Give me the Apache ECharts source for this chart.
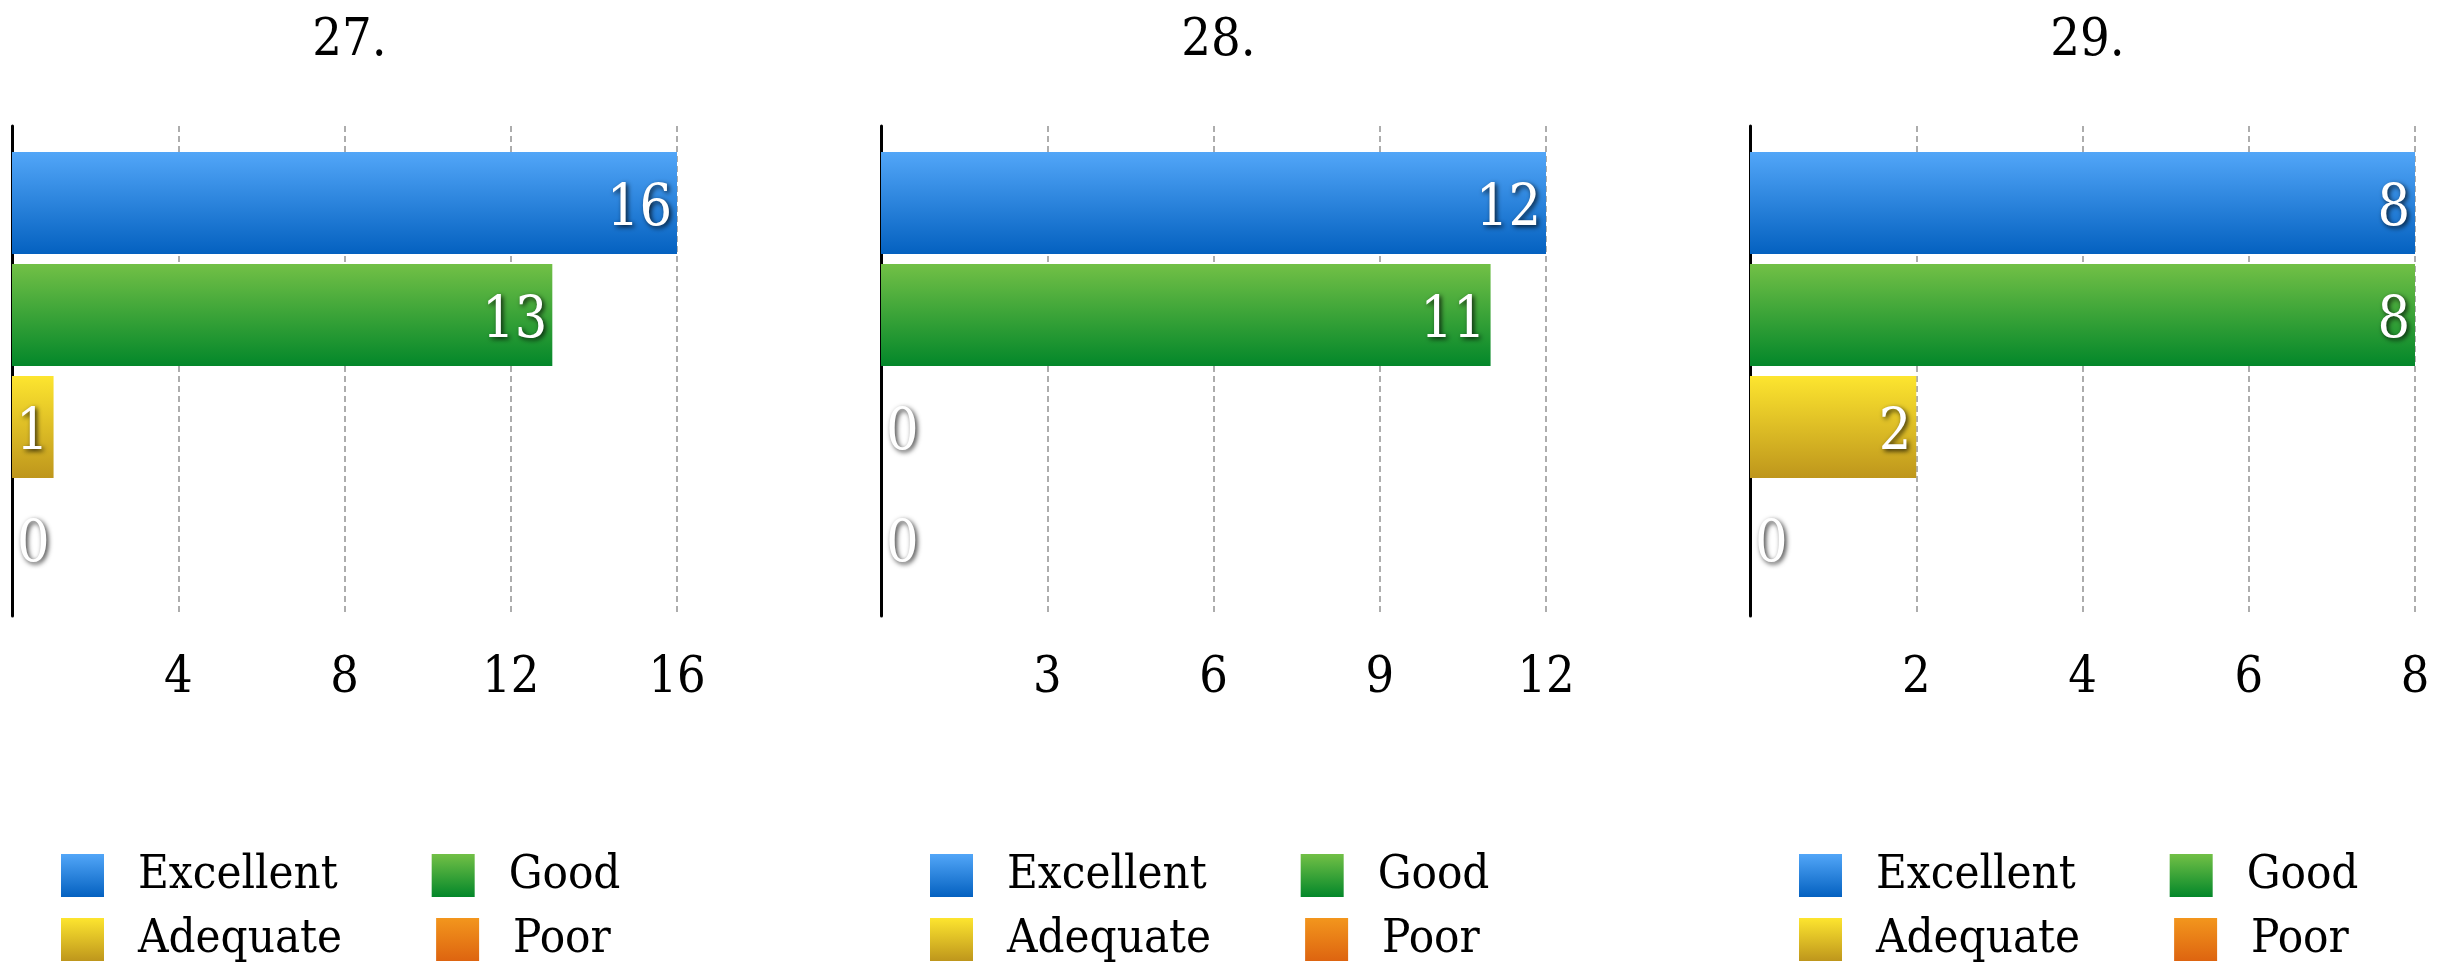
<!DOCTYPE html>
<html>
<head>
<meta charset="utf-8">
<title>Ratings 27 - 29</title>
<script src="https://cdn.jsdelivr.net/npm/echarts@6/dist/echarts.min.js"></script>
<style>
  html, body { margin: 0; padding: 0; background: #fff; }
  #main { width: 2459px; height: 968px; }
</style>
</head>
<body>
<div id="main"></div>
<script>
// one panel per question
var questions = ['27.', '28.', '29.'];
var ratings = ['Excellent', 'Good', 'Adequate', 'Poor'];
// number of answers, one value per question
var excellent = [16, 12, 8];
var good = [13, 11, 8];
var adequate = [1, 0, 2];
var poor = [0, 0, 0];
// x axis of each panel
var axisMax = [16, 12, 8];
var axisStep = [4, 3, 2];

var counts = [excellent, good, adequate, poor];
// top / bottom colour of each rating
var colorStops = [
    ['#52a6f8', '#0461c0'],
    ['#72c046', '#03872a'],
    ['#fde52f', '#be961c'],
    ['#f3961d', '#dd6410']
];
var serif = '"DejaVu Serif Condensed", "DejaVu Serif", serif';
var lefts = [12, 881, 1750];
var plotW = 665;

function gradient(i) {
    return new echarts.graphic.LinearGradient(0, 0, 0, 1, [
        { offset: 0, color: colorStops[i][0] },
        { offset: 1, color: colorStops[i][1] }
    ]);
}

var chart = echarts.init(document.getElementById('main'));
var title = [], grid = [], xAxis = [], yAxis = [], legend = [], series = [];

questions.forEach(function (q, p) {
    var left = lefts[p];
    title.push({
        text: q,
        left: left + plotW / 2,
        textAlign: 'center',
        top: 10,
        textStyle: { fontSize: 52, fontWeight: 'normal', color: '#000', fontFamily: serif }
    });
    grid.push({ left: left, top: 126, width: plotW, height: 490 });
    xAxis.push({
        type: 'value',
        gridIndex: p,
        min: 0,
        max: axisMax[p],
        interval: axisStep[p],
        axisLine: { show: false },
        axisTick: { show: false },
        axisLabel: {
            showMinLabel: false,
            margin: 38,
            fontSize: 50,
            color: '#000',
            fontFamily: serif
        },
        splitLine: { lineStyle: { color: '#adadad', width: 2, type: [6, 4] } }
    });
    yAxis.push({
        type: 'category',
        gridIndex: p,
        inverse: true,
        data: [q],
        axisLine: { lineStyle: { color: '#000', width: 3 } },
        axisTick: { show: false },
        axisLabel: { show: false }
    });
    // two legend rows under each panel
    [[0, 2], [2, 4]].forEach(function (r, row) {
        legend.push({
            data: ratings.slice(r[0], r[1]),
            left: left + 49,
            top: 852 + row * 64,
            padding: 0,
            icon: 'rect',
            itemWidth: 43,
            itemHeight: 43,
            itemGap: 94,
            selectedMode: false,
            textStyle: {
                fontSize: 47,
                color: '#000',
                fontFamily: serif,
                width: 205,
                padding: [0, 0, 0, 29]
            }
        });
    });
    ratings.forEach(function (name, r) {
        var v = counts[r][p];
        series.push({
            type: 'bar',
            name: name,
            xAxisIndex: p,
            yAxisIndex: p,
            barWidth: 102,
            barGap: '9.8%',
            itemStyle: { color: gradient(r) },
            label: {
                show: true,
                position: 'insideRight',
                distance: 5,
                offset: [0, 7],
                color: '#fff',
                fontSize: 57,
                fontFamily: serif,
                textShadowColor: 'rgba(0,0,0,0.8)',
                textShadowBlur: 5,
                textShadowOffsetX: 2,
                textShadowOffsetY: 2
            },
            data: [{ value: v, label: { position: v === 0 ? 'insideLeft' : 'insideRight' } }]
        });
    });
});

chart.setOption({
    animation: false,
    title: title,
    grid: grid,
    xAxis: xAxis,
    yAxis: yAxis,
    legend: legend,
    series: series
});
</script>
</body>
</html>
